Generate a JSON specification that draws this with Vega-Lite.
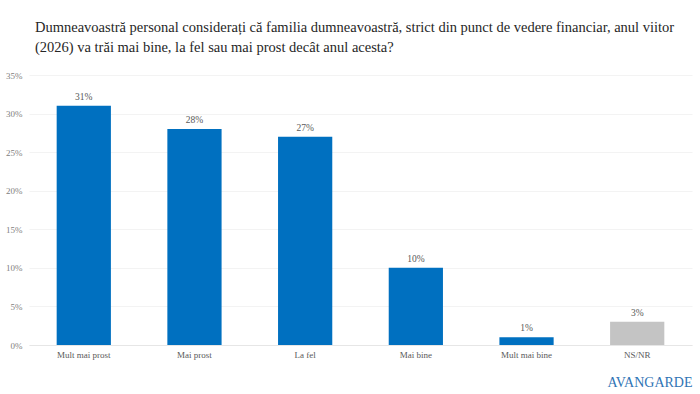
{
  "$schema": "https://vega.github.io/schema/vega-lite/v6.json",
  "autosize": {"type": "none"},
  "width": 663,
  "height": 270,
  "padding": {"left": 29, "top": 75, "right": 8, "bottom": 49},
  "background": "#ffffff",
  "view": {"stroke": null},
  "title": {
    "text": ["Dumneavoastră personal considerați că familia dumneavoastră, strict din punct de vedere financiar, anul viitor", "(2026) va trăi mai bine, la fel sau mai prost decât anul acesta?"],
    "anchor": "start",
    "frame": "group",
    "dx": 6,
    "dy": 4,
    "offset": 20,
    "font": "Liberation Sans Narrow",
    "fontSize": 14.5,
    "fontWeight": "normal",
    "color": "#262626",
    "lineHeight": 20
  },
  "data": {
    "values": [
      {"cat": "Mult mai prost", "val": 31, "grp": "a"},
      {"cat": "Mai prost", "val": 28, "grp": "a"},
      {"cat": "La fel", "val": 27, "grp": "a"},
      {"cat": "Mai bine", "val": 10, "grp": "a"},
      {"cat": "Mult mai bine", "val": 1, "grp": "a"},
      {"cat": "NS/NR", "val": 3, "grp": "b"}
    ]
  },
  "encoding": {
    "x": {
      "field": "cat",
      "type": "nominal",
      "sort": null,
      "scale": {"paddingInner": 0.51, "paddingOuter": 0.25},
      "axis": {
        "title": "AVANGARDE",
        "titleAnchor": "end",
        "titleFont": "Liberation Serif",
        "titleFontSize": 14,
        "titleFontWeight": "normal",
        "titleColor": "#2f74b5",
        "titlePadding": 16,
        "labelAngle": 0,
        "labelFont": "Liberation Serif",
        "labelFontSize": 9,
        "labelColor": "#595959",
        "labelPadding": 5,
        "ticks": false,
        "domainColor": "#e6e6e6",
        "domainWidth": 1
      }
    },
    "y": {
      "field": "val",
      "type": "quantitative",
      "scale": {"domain": [0, 35]},
      "axis": {
        "title": null,
        "values": [0, 5, 10, 15, 20, 25, 30, 35],
        "labelExpr": "datum.value + '%'",
        "labelFont": "Liberation Serif",
        "labelFontSize": 9,
        "labelColor": "#808080",
        "labelPadding": 7,
        "ticks": false,
        "domain": false,
        "grid": true,
        "gridColor": "#f3f3f3",
        "gridWidth": 1
      }
    }
  },
  "layer": [
    {
      "mark": {"type": "bar"},
      "encoding": {
        "color": {
          "field": "grp",
          "type": "nominal",
          "scale": {"domain": ["a", "b"], "range": ["#0070c0", "#c4c4c4"]},
          "legend": null
        }
      }
    },
    {
      "mark": {"type": "text", "dy": -9, "font": "Liberation Serif", "fontSize": 9.5, "color": "#595959", "text": {"expr": "datum.val + '%'"}},
      "encoding": {}
    }
  ]
}
